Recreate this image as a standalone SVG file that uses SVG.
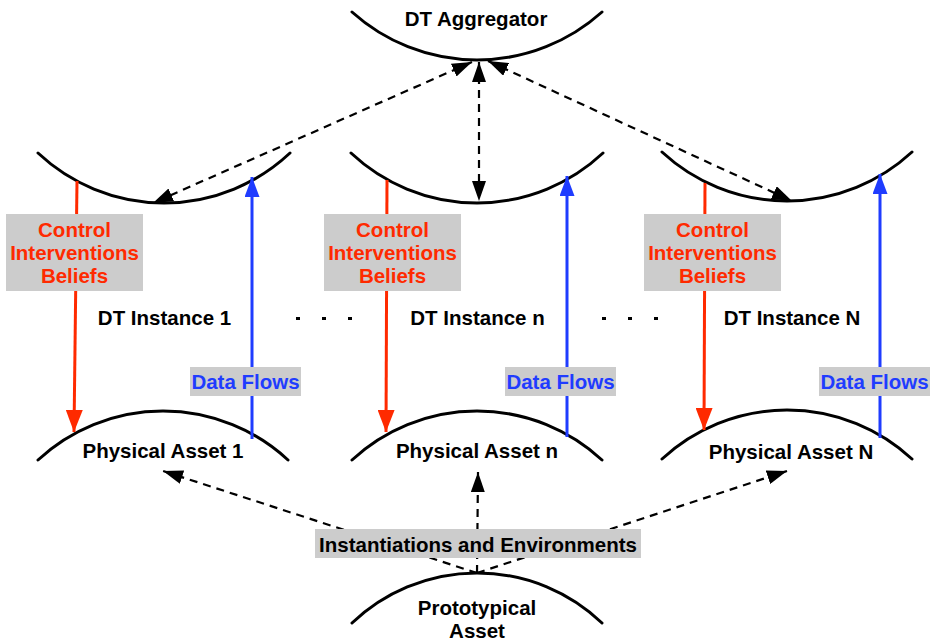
<svg xmlns="http://www.w3.org/2000/svg" width="934" height="641" viewBox="0 0 934 641">
<style>
.arc{fill:none;stroke:#000;stroke-width:3;stroke-linecap:round}
.t{font-family:"Liberation Sans",Arial,sans-serif;font-weight:bold;font-size:20.5px;text-anchor:middle;fill:#000}
.red{fill:#ff2a00}
.blue{fill:#1f3cff}
.box{fill:#cccccc}
.dash{fill:none;stroke:#000;stroke-width:2.2;stroke-dasharray:8 6}
.rl{fill:none;stroke:#ff2a00;stroke-width:3}
.bl{fill:none;stroke:#1f3cff;stroke-width:3}
</style>
<defs>
<marker id="ah" markerUnits="userSpaceOnUse" markerWidth="20" markerHeight="14" refX="20" refY="7" orient="auto-start-reverse"><path d="M0,0 L20,7 L0,14 z" fill="#000"/></marker>
<marker id="ar" markerUnits="userSpaceOnUse" markerWidth="22" markerHeight="17" refX="22" refY="8.5" orient="auto"><path d="M0,0 L22,8.5 L0,17 z" fill="#ff2a00"/></marker>
<marker id="ab" markerUnits="userSpaceOnUse" markerWidth="20" markerHeight="15" refX="20" refY="7.5" orient="auto"><path d="M0,0 L20,7.5 L0,15 z" fill="#1f3cff"/></marker>
</defs>
<rect width="934" height="641" fill="#fff"/>

<g id="aggregator">
<path class="arc" d="M352,12 A187,187 0 0 0 602,12"/>
<text class="t" x="476" y="26">DT Aggregator</text>
</g>
<g id="instance1">
<path class="arc" d="M38,153 A184,184 0 0 0 290,153"/>
<text class="t" x="164.5" y="325">DT Instance 1</text>
</g>
<g id="instancen">
<path class="arc" d="M351,153 A184,184 0 0 0 603,153"/>
<text class="t" x="477.5" y="325">DT Instance n</text>
</g>
<g id="instanceN">
<path class="arc" d="M662,152 A184,184 0 0 0 912,152"/>
<text class="t" x="792" y="325">DT Instance N</text>
</g>
<g id="asset1">
<path class="arc" d="M38,460 A184,184 0 0 1 288,460"/>
<text class="t" x="163" y="458">Physical Asset 1</text>
</g>
<g id="assetn">
<path class="arc" d="M352,460 A184,184 0 0 1 602,460"/>
<text class="t" x="477" y="458">Physical Asset n</text>
</g>
<g id="assetN">
<path class="arc" d="M662,459 A184,184 0 0 1 912,459"/>
<text class="t" x="791" y="459">Physical Asset N</text>
</g>
<g id="prototype">
<path class="arc" d="M352,623 A181,181 0 0 1 602,623"/>
<text class="t" x="477" y="615">Prototypical</text>
<text class="t" x="477" y="638">Asset</text>
</g>

<g id="connectors">
<line class="dash" x1="472" y1="62" x2="153" y2="203" marker-start="url(#ah)" marker-end="url(#ah)"/>
<line class="dash" x1="479" y1="62" x2="479" y2="201" marker-start="url(#ah)" marker-end="url(#ah)"/>
<line class="dash" x1="488" y1="61" x2="792" y2="201" marker-start="url(#ah)" marker-end="url(#ah)"/>
<line class="dash" x1="477" y1="573" x2="163" y2="471" marker-end="url(#ah)"/>
<line class="dash" x1="477" y1="573" x2="478" y2="472" marker-end="url(#ah)"/>
<line class="dash" x1="477" y1="573" x2="787" y2="471" marker-end="url(#ah)"/>
<line class="rl" x1="77" y1="181" x2="74" y2="432" marker-end="url(#ar)"/>
<line class="rl" x1="387" y1="180" x2="386" y2="432" marker-end="url(#ar)"/>
<line class="rl" x1="705" y1="183" x2="704" y2="430" marker-end="url(#ar)"/>
<line class="bl" x1="252" y1="439" x2="252" y2="177" marker-end="url(#ab)"/>
<line class="bl" x1="567" y1="437" x2="567" y2="176" marker-end="url(#ab)"/>
<line class="bl" x1="880" y1="438" x2="880" y2="174" marker-end="url(#ab)"/>
<line x1="296" y1="318.5" x2="356" y2="318.5" stroke="#000" stroke-width="3" stroke-dasharray="4 22"/>
<line x1="602" y1="318.5" x2="662" y2="318.5" stroke="#000" stroke-width="3" stroke-dasharray="4 22"/>
</g>

<g id="labels">
<rect class="box" x="6" y="214" width="137" height="77"/>
<text class="t red" x="74.5" y="237">Control</text>
<text class="t red" x="74.5" y="260">Interventions</text>
<text class="t red" x="74.5" y="283">Beliefs</text>
<rect class="box" x="324" y="214" width="137" height="77"/>
<text class="t red" x="392.5" y="237">Control</text>
<text class="t red" x="392.5" y="260">Interventions</text>
<text class="t red" x="392.5" y="283">Beliefs</text>
<rect class="box" x="644" y="214" width="137" height="77"/>
<text class="t red" x="712.5" y="237">Control</text>
<text class="t red" x="712.5" y="260">Interventions</text>
<text class="t red" x="712.5" y="283">Beliefs</text>
<rect class="box" x="190" y="367" width="111" height="29"/>
<text class="t blue" x="245.5" y="389">Data Flows</text>
<rect class="box" x="505" y="367" width="111" height="29"/>
<text class="t blue" x="560.5" y="389">Data Flows</text>
<rect class="box" x="819" y="367" width="111" height="29"/>
<text class="t blue" x="874.5" y="389">Data Flows</text>
<rect class="box" x="315" y="529" width="326" height="29"/>
<text class="t" x="478" y="552">Instantiations and Environments</text>
</g>
</svg>
